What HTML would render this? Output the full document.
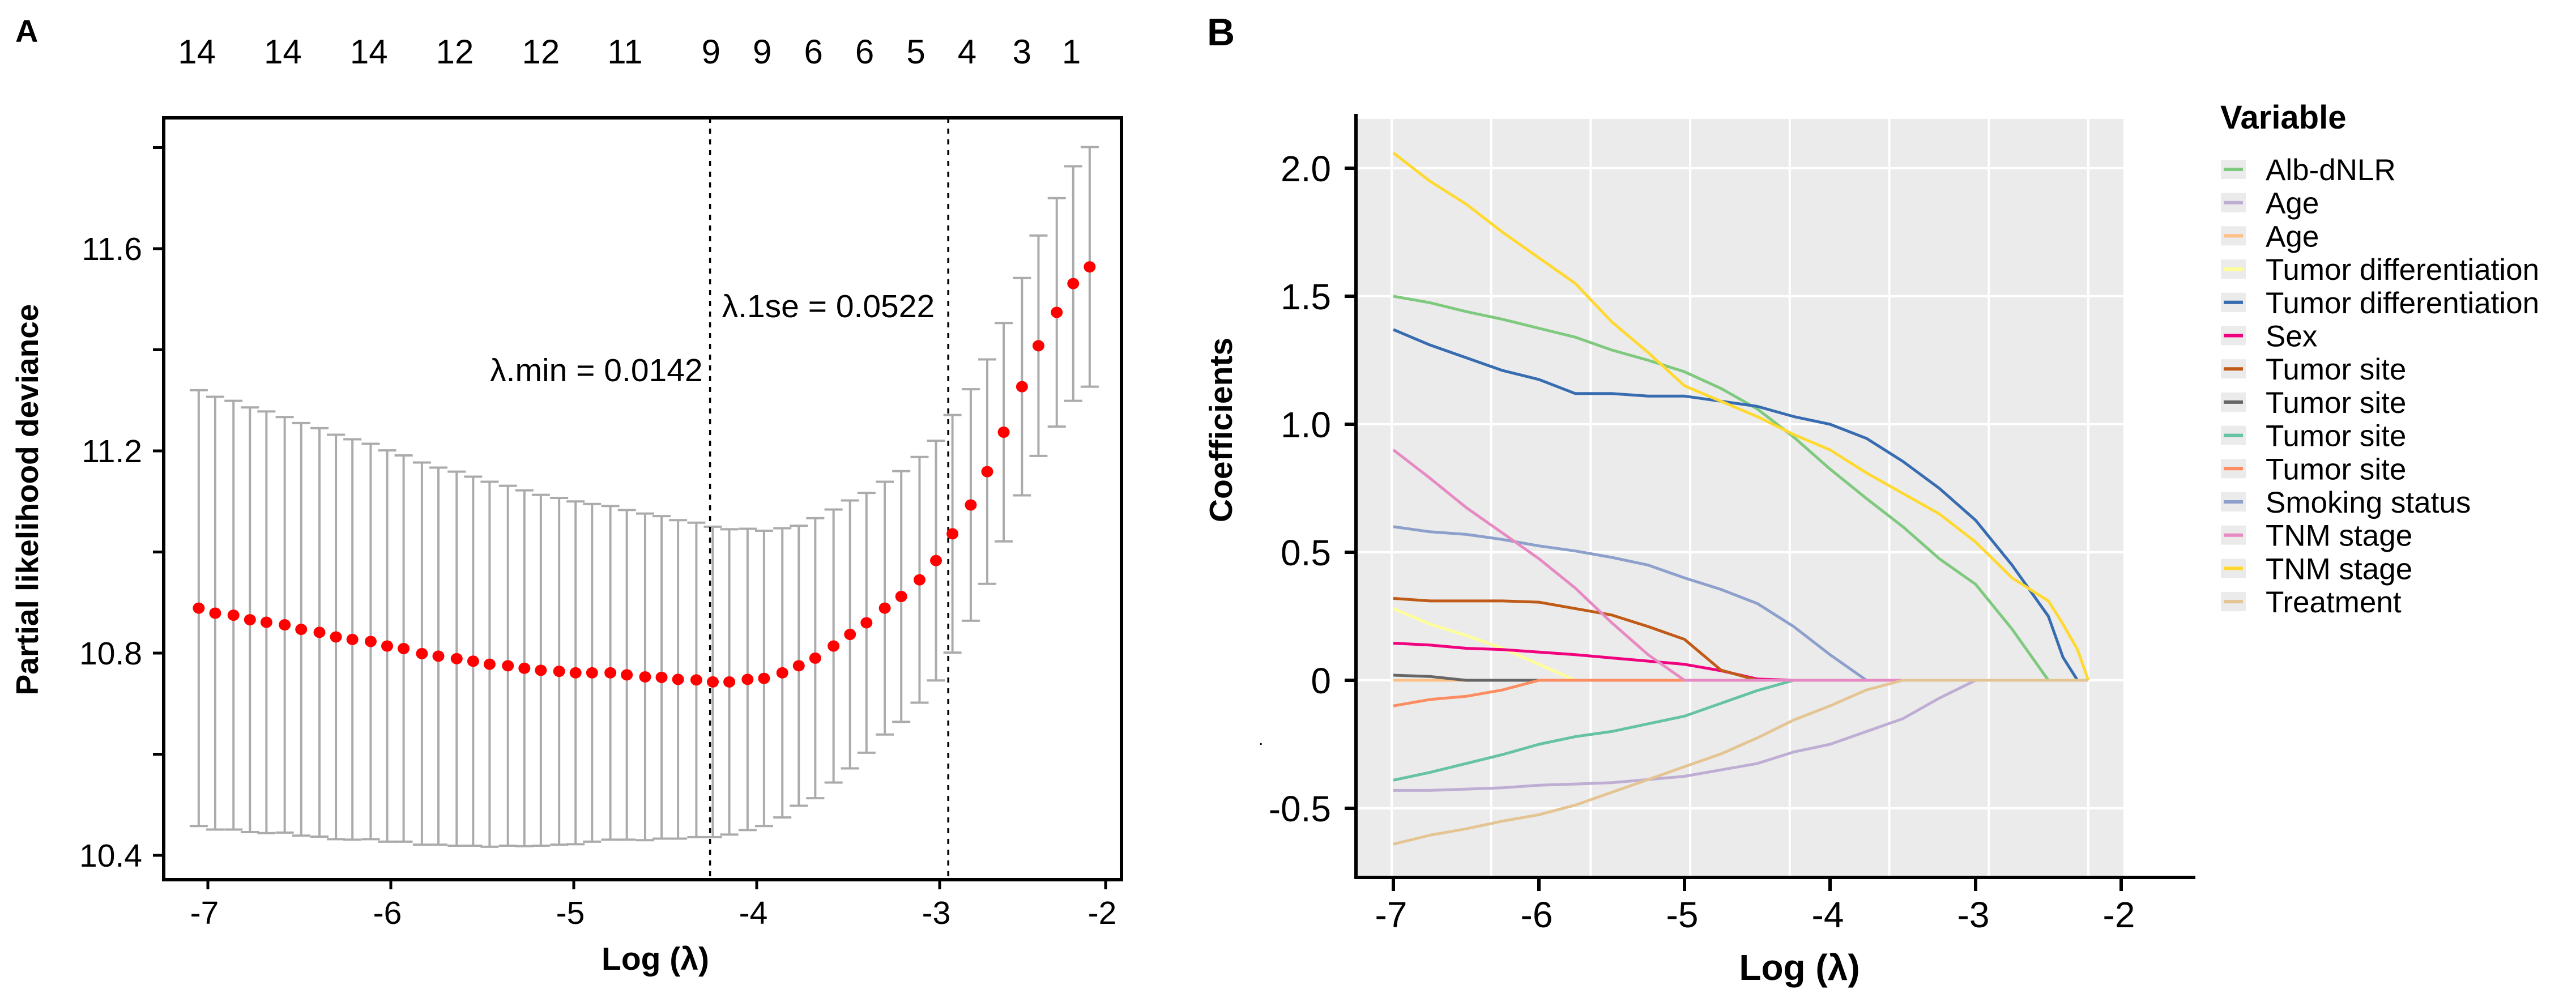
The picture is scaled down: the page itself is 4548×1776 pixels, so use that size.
<!DOCTYPE html>
<html><head><meta charset="utf-8">
<style>
html,body{margin:0;padding:0;background:#fff;}
svg{display:block;font-family:"Liberation Sans",Arial,sans-serif;}
</style></head>
<body>
<svg id="fig" width="4548" height="1776" viewBox="0 0 4548 1776" xmlns="http://www.w3.org/2000/svg">
  <rect x="0" y="0" width="4548" height="1776" fill="#ffffff"/>
  <g id="panelA"></g>
  <g id="panelB"></g>
</svg>
<script>
// ---------- Panel A data ----------
const aLogLambda = [-7.05,-6.96,-6.86,-6.77,-6.68,-6.58,-6.49,-6.39,-6.30,-6.21,-6.11,-6.02,-5.93,-5.83,-5.74,-5.64,-5.55,-5.46,-5.36,-5.27,-5.18,-5.08,-4.99,-4.90,-4.80,-4.71,-4.61,-4.52,-4.43,-4.33,-4.24,-4.15,-4.05,-3.96,-3.86,-3.77,-3.68,-3.58,-3.49,-3.40,-3.30,-3.21,-3.11,-3.02,-2.93,-2.83,-2.74,-2.65,-2.55,-2.46,-2.36,-2.27,-2.18];
const aDeviance = [10.889,10.879,10.875,10.866,10.861,10.856,10.847,10.841,10.832,10.827,10.823,10.814,10.809,10.799,10.794,10.789,10.784,10.778,10.775,10.770,10.766,10.764,10.761,10.761,10.761,10.757,10.753,10.752,10.748,10.747,10.743,10.743,10.748,10.750,10.761,10.775,10.790,10.814,10.837,10.860,10.889,10.912,10.945,10.983,11.036,11.093,11.159,11.237,11.327,11.408,11.474,11.531,11.564];
const aSE = [.431,.428,.424,.420,.417,.411,.408,.404,.400,.396,.391,.387,.382,.378,.373,.370,.365,.361,.356,.352,.347,.343,.339,.334,.330,.326,.323,.319,.315,.311,.307,.302,.298,.292,.286,.277,.277,.270,.265,.257,.250,.248,.243,.237,.235,.229,.222,.216,.215,.218,.226,.232,.237];
const aXTicks = [-7,-6,-5,-4,-3,-2];
const aYTicks = [10.4,10.6,10.8,11.0,11.2,11.4,11.6,11.8];
const aYLabels = ["10.4","","10.8","","11.2","","11.6",""];
const aTopPos = [-7.06,-6.59,-6.12,-5.65,-5.18,-4.72,-4.25,-3.97,-3.69,-3.41,-3.13,-2.85,-2.55,-2.28];
const aTopCounts = ["14","14","14","12","12","11","9","9","6","6","5","4","3","1"];
const aLambdaMin = -4.255;
const aLambda1se = -2.953;

// ---------- Panel B data ----------
const bLogLambda = [-7,-6.75,-6.5,-6.25,-6,-5.75,-5.5,-5.25,-5,-4.75,-4.5,-4.25,-4,-3.75,-3.5,-3.25,-3,-2.75,-2.5,-2.4,-2.3,-2.226];
const bNames = ["Alb-dNLR","Age","Age","Tumor differentiation","Tumor differentiation","Sex","Tumor site","Tumor site","Tumor site","Tumor site","Smoking status","TNM stage","TNM stage","Treatment"];
const bColors = ["#7FC97F","#BEAED4","#FDC086","#FFFF99","#386CB0","#F0027F","#BF5B17","#666666","#66C2A5","#FC8D62","#8DA0CB","#E78AC3","#FFD92F","#E5C494"];
const coefAlb = [1.50,1.475,1.44,1.41,1.375,1.34,1.29,1.25,1.205,1.14,1.06,0.95,0.825,0.71,0.60,0.475,0.375,0.20,0,0,0,0];
const coefAge1 = [-0.43,-0.43,-0.425,-0.42,-0.41,-0.405,-0.40,-0.3875,-0.375,-0.35,-0.325,-0.28,-0.25,-0.20,-0.15,-0.07,0,0,0,0,0,0];
const coefAge2 = [0,0,0,0,0,0,0,0,0,0,0,0,0,0,0,0,0,0,0,0,0,0];
const coefDiff1 = [0.28,0.22,0.175,0.125,0.0625,0,0,0,0,0,0,0,0,0,0,0,0,0,0,0,0,0];
const coefDiff2 = [1.37,1.31,1.26,1.21,1.175,1.12,1.12,1.11,1.11,1.09,1.07,1.03,1.0,0.945,0.855,0.75,0.625,0.45,0.25,0.09,0,0];
const coefSex = [0.145,0.1375,0.125,0.12,0.11,0.10,0.0875,0.075,0.0625,0.0375,0.005,0,0,0,0,0,0,0,0,0,0,0];
const coefSite1 = [0.32,0.31,0.31,0.31,0.305,0.28,0.255,0.21,0.16,0.04,0,0,0,0,0,0,0,0,0,0,0,0];
const coefSite2 = [0.02,0.015,0,0,0,0,0,0,0,0,0,0,0,0,0,0,0,0,0,0,0,0];
const coefSite3 = [-0.39,-0.36,-0.325,-0.29,-0.25,-0.22,-0.20,-0.17,-0.14,-0.09,-0.04,0,0,0,0,0,0,0,0,0,0,0];
const coefSite4 = [-0.10,-0.075,-0.0625,-0.0375,0,0,0,0,0,0,0,0,0,0,0,0,0,0,0,0,0,0];
const coefSmoking = [0.60,0.58,0.57,0.55,0.525,0.505,0.48,0.45,0.40,0.355,0.30,0.21,0.10,0,0,0,0,0,0,0,0,0];
const coefTNM1 = [0.90,0.79,0.675,0.575,0.475,0.36,0.225,0.10,0,0,0,0,0,0,0,0,0,0,0,0,0,0];
const coefTNM2 = [2.06,1.95,1.86,1.75,1.65,1.55,1.40,1.28,1.15,1.09,1.03,0.96,0.90,0.81,0.73,0.65,0.54,0.40,0.31,0.22,0.12,0];
const coefTreatment = [-0.64,-0.605,-0.58,-0.55,-0.525,-0.4875,-0.4375,-0.3875,-0.3375,-0.2875,-0.225,-0.155,-0.10,-0.0375,0,0,0,0,0,0,0,0];
const bXTicks = [-7,-6,-5,-4,-3,-2];
const bYTicks = [-0.5,0,0.5,1.0,1.5,2.0];
const bYLabels = ["-0.5","0","0.5","1.0","1.5","2.0"];

const NS = "http://www.w3.org/2000/svg";
function mk(parent, tag, attrs, text){
  const e = document.createElementNS(NS, tag);
  for (const k in attrs) e.setAttribute(k, attrs[k]);
  if (text !== undefined) e.textContent = text;
  parent.appendChild(e);
  return e;
}

// ---------- Panel A ----------
(function(){
  const g = document.getElementById('panelA');
  const L=289, R=1980, T=208, B=1553;
  const xA = v => 367 + (v + 7) * 323;
  const yA = v => 1510 - (v - 10.4) * 892.5;

  let t = mk(g,'text',{x:27,y:74,'font-size':56,'font-weight':'bold'},'A');
  
  

  // error bars
  aLogLambda.forEach((lv,i)=>{
    const x = xA(lv), y1 = yA(aDeviance[i]+aSE[i]), y2 = yA(aDeviance[i]-aSE[i]);
    const eb = mk(g,'g',{stroke:'#ABABAB','stroke-width':4,fill:'none'});
    
    
    mk(eb,'line',{x1:x,x2:x,y1:y1,y2:y2});
    mk(eb,'line',{x1:x-16,x2:x+16,y1:y1,y2:y1});
    mk(eb,'line',{x1:x-16,x2:x+16,y1:y2,y2:y2});
  });
  // dashed lines
  [aLambdaMin, aLambda1se].forEach((lv,i)=>{
    const ln = mk(g,'line',{x1:xA(lv),x2:xA(lv),y1:T,y2:B,stroke:'#000','stroke-width':3.5,'stroke-dasharray':'9 10'});
    
    
  });
  // points
  aLogLambda.forEach((lv,i)=>{
    const c = mk(g,'ellipse',{cx:xA(lv),cy:yA(aDeviance[i]),rx:10.5,ry:10,fill:'#FF0000'});
    
    
  });
  // annotations
  t = mk(g,'text',{x:xA(aLambdaMin)-13,y:673,'font-size':57,'text-anchor':'end'},'λ.min = 0.0142');
  
  
  t = mk(g,'text',{x:xA(aLambdaMin)+21,y:560,'font-size':57},'λ.1se = 0.0522');
  
  

  // frame
  const fr = mk(g,'rect',{x:L,y:T,width:R-L,height:B-T,fill:'none',stroke:'#000','stroke-width':6});
  
  

  // y ticks
  aYTicks.forEach((v,i)=>{
    const y = yA(v);
    const tk = mk(g,'line',{x1:270,x2:L,y1:y,y2:y,stroke:'#000','stroke-width':5});
    
    
    if (aYLabels[i]) {
      const lb = mk(g,'text',{x:251,y:y+20,'font-size':57,'text-anchor':'end'},aYLabels[i]);
      
      
    }
  });
  // x ticks
  aXTicks.forEach(v=>{
    const x = Math.min(xA(v), 1952);
    const tk = mk(g,'line',{x1:x,x2:x,y1:B,y2:1570,stroke:'#000','stroke-width':5});
    
    
    const lb = mk(g,'text',{x:x-6,y:1631,'font-size':57,'text-anchor':'middle'},String(v));
    
    
  });
  // top counts
  aTopPos.forEach((v,i)=>{
    const lb = mk(g,'text',{x:xA(v),y:112,'font-size':60,'text-anchor':'middle'},aTopCounts[i]);
    
    
  });
  t = mk(g,'text',{x:1157,y:1712,'font-size':57,'font-weight':'bold','text-anchor':'middle'},'Log (λ)');
  
  
  t = mk(g,'text',{x:0,y:0,'font-size':55,'font-weight':'bold','text-anchor':'middle',transform:'translate(67,882) rotate(-90)'},'Partial likelihood deviance');
  
  
})();

// ---------- Panel B ----------
(function(){
  const g = document.getElementById('panelB');
  const xB = v => 2460 + (v + 7) * 257;
  const yB = v => 1201 - v * 452;
  const PL=2397, PR=3749, PT=210, PB=1546;

  let t = mk(g,'text',{x:2131,y:80,'font-size':68,'font-weight':'bold'},'B');
  
  

  const bg = mk(g,'rect',{x:PL,y:PT,width:PR-PL,height:PB-PT,fill:'#EBEBEB'});
  
  
  for (let i=0;i<8;i++){
    const gx = 2457 + i*175.7;
    const gl = mk(g,'line',{x1:gx,x2:gx,y1:PT,y2:PB,stroke:'#fff','stroke-width':4});
    
    
  }
  bYTicks.forEach(v=>{
    const gl = mk(g,'line',{x1:PL,x2:PR,y1:yB(v),y2:yB(v),stroke:'#fff','stroke-width':4});
    
    
  });

  const series = [coefAlb,coefAge1,coefAge2,coefDiff1,coefDiff2,coefSex,coefSite1,coefSite2,coefSite3,coefSite4,coefSmoking,coefTNM1,coefTNM2,coefTreatment];
  series.forEach((arr,si)=>{
    const d = arr.map((v,i)=>(i?'L':'M')+xB(bLogLambda[i]).toFixed(1)+','+yB(v).toFixed(1)).join(' ');
    const p = mk(g,'path',{d:d,fill:'none',stroke:bColors[si],'stroke-width':5,'stroke-linejoin':'round'});
    
    
  });

  // axes
  let ax = mk(g,'line',{x1:2394,x2:2394,y1:201,y2:1552,stroke:'#000','stroke-width':6});
  
  
  ax = mk(g,'line',{x1:2391,x2:3876,y1:1549,y2:1549,stroke:'#000','stroke-width':6});
  
  

  bYTicks.forEach((v,i)=>{
    const y = yB(v);
    const tk = mk(g,'line',{x1:2374,x2:2394,y1:y,y2:y,stroke:'#000','stroke-width':6});
    
    
    const lb = mk(g,'text',{x:2350,y:y+23,'font-size':64,'text-anchor':'end'},bYLabels[i]);
    
    
  });
  bXTicks.forEach(v=>{
    const x = xB(v);
    const tk = mk(g,'line',{x1:x,x2:x,y1:1549,y2:1573,stroke:'#000','stroke-width':6});
    
    
    const lb = mk(g,'text',{x:x-4,y:1637,'font-size':64,'text-anchor':'middle'},String(v));
    
    
  });
  t = mk(g,'text',{x:3177,y:1730,'font-size':64,'font-weight':'bold','text-anchor':'middle'},'Log (λ)');
  
  
  t = mk(g,'text',{x:0,y:0,'font-size':57,'font-weight':'bold','text-anchor':'middle',transform:'translate(2175,759) rotate(-90)'},'Coefficients');
  
  
  t = mk(g,'text',{x:2222,y:1315,'font-size':30},'.');
  
  

  // legend
  const lg = mk(g,'g',{});
  
  
  t = mk(lg,'text',{x:3920,y:227,'font-size':58,'font-weight':'bold'},'Variable');
  
  
  bNames.forEach((nm,i)=>{
    const cy = 299 + i*58.7;
    const en = mk(lg,'g',{});
    
    
    mk(en,'rect',{x:3921,y:cy-17,width:44,height:34,fill:'#EBEBEB'});
    mk(en,'line',{x1:3926,x2:3960,y1:cy,y2:cy,stroke:bColors[i],'stroke-width':6});
    mk(en,'text',{x:4000,y:cy+19,'font-size':53},nm);
  });
})();
</script>
</body></html>
